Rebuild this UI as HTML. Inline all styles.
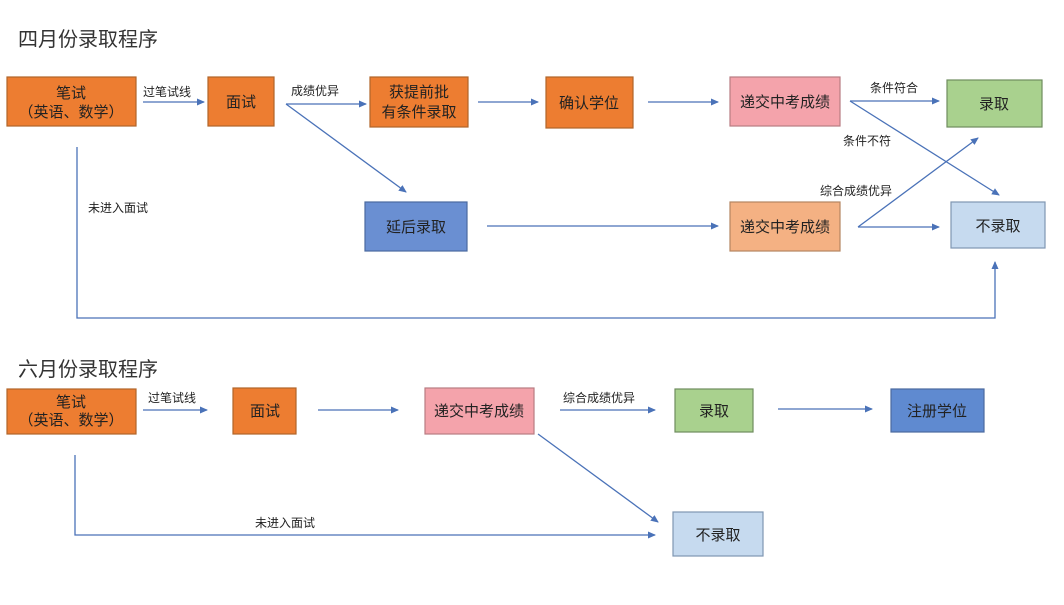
<!DOCTYPE html>
<html><head><meta charset="utf-8"><style>
body{margin:0;background:#fff;}
svg{display:block;font-family:"Liberation Sans","Noto Sans CJK SC",sans-serif;}
</style></head><body>
<svg width="1064" height="605" viewBox="0 0 1064 605" xmlns="http://www.w3.org/2000/svg">
<defs>
<marker id="a" markerWidth="8" markerHeight="8" refX="7" refY="4" orient="auto" markerUnits="userSpaceOnUse">
<path d="M0,0.5 L8,4 L0,7.5 z" fill="#4A72B8"/></marker>
</defs>
<rect width="1064" height="605" fill="#fff"/>
<g font-size="20" fill="#333"><text x="18" y="46">四月份录取程序</text><text x="18" y="376">六月份录取程序</text></g>

<g stroke-width="1.2">
<rect x="7" y="77" width="129" height="49" fill="#ED7D31" stroke="#B0652A"/>
<rect x="208" y="77" width="66" height="49" fill="#ED7D31" stroke="#B0652A"/>
<rect x="370" y="77" width="98" height="50" fill="#ED7D31" stroke="#B0652A"/>
<rect x="546" y="77" width="87" height="51" fill="#ED7D31" stroke="#B0652A"/>
<rect x="730" y="77" width="110" height="49" fill="#F4A3AB" stroke="#B87C82"/>
<rect x="947" y="80" width="95" height="47" fill="#A9D18E" stroke="#6F8C5E"/>
<rect x="365" y="202" width="102" height="49" fill="#6A8FD2" stroke="#4B6A9F"/>
<rect x="730" y="202" width="110" height="49" fill="#F4B183" stroke="#B48562"/>
<rect x="951" y="202" width="94" height="46" fill="#C6DAEF" stroke="#7F96B2"/>

<rect x="7" y="389" width="129" height="45" fill="#ED7D31" stroke="#B0652A"/>
<rect x="233" y="388" width="63" height="46" fill="#ED7D31" stroke="#B0652A"/>
<rect x="425" y="388" width="109" height="46" fill="#F4A3AB" stroke="#B87C82"/>
<rect x="675" y="389" width="78" height="43" fill="#A9D18E" stroke="#6F8C5E"/>
<rect x="891" y="389" width="93" height="43" fill="#5F8AD0" stroke="#4B6A9F"/>
<rect x="673" y="512" width="90" height="44" fill="#C6DAEF" stroke="#7F96B2"/>
</g>

<g font-size="15" fill="#222" text-anchor="middle">
<text x="71" y="98">笔试</text><text x="71" y="117">（英语、数学）</text>
<text x="241" y="107">面试</text>
<text x="419" y="97">获提前批</text><text x="419" y="117">有条件录取</text>
<text x="589" y="108">确认学位</text>
<text x="785" y="107">递交中考成绩</text>
<text x="994" y="109">录取</text>
<text x="416" y="232">延后录取</text>
<text x="785" y="232">递交中考成绩</text>
<text x="998" y="231">不录取</text>

<text x="71" y="407">笔试</text><text x="71" y="425">（英语、数学）</text>
<text x="265" y="416">面试</text>
<text x="479" y="416">递交中考成绩</text>
<text x="714" y="416">录取</text>
<text x="937" y="416">注册学位</text>
<text x="718" y="540">不录取</text>
</g>

<g stroke="#4A72B8" stroke-width="1.3" fill="none">
<line x1="143" y1="102" x2="204" y2="102" marker-end="url(#a)"/>
<line x1="286" y1="104" x2="366" y2="104" marker-end="url(#a)"/>
<line x1="286" y1="104" x2="406" y2="192" marker-end="url(#a)"/>
<line x1="478" y1="102" x2="538" y2="102" marker-end="url(#a)"/>
<line x1="648" y1="102" x2="718" y2="102" marker-end="url(#a)"/>
<line x1="850" y1="101" x2="939" y2="101" marker-end="url(#a)"/>
<line x1="850" y1="101" x2="999" y2="195" marker-end="url(#a)"/>
<line x1="487" y1="226" x2="718" y2="226" marker-end="url(#a)"/>
<line x1="858" y1="227" x2="939" y2="227" marker-end="url(#a)"/>
<line x1="858" y1="227" x2="978" y2="138" marker-end="url(#a)"/>
<polyline points="77,147 77,318 995,318 995,262" marker-end="url(#a)"/>

<line x1="143" y1="410" x2="207" y2="410" marker-end="url(#a)"/>
<line x1="318" y1="410" x2="398" y2="410" marker-end="url(#a)"/>
<line x1="560" y1="410" x2="655" y2="410" marker-end="url(#a)"/>
<line x1="778" y1="409" x2="872" y2="409" marker-end="url(#a)"/>
<line x1="538" y1="434" x2="658" y2="522" marker-end="url(#a)"/>
<polyline points="75,455 75,535 655,535" marker-end="url(#a)"/>
</g>

<g font-size="12" fill="#222">
<text x="143" y="96">过笔试线</text>
<text x="291" y="95">成绩优异</text>
<text x="870" y="92">条件符合</text>
<text x="843" y="145">条件不符</text>
<text x="820" y="195">综合成绩优异</text>
<text x="88" y="212">未进入面试</text>
<text x="148" y="402">过笔试线</text>
<text x="563" y="402">综合成绩优异</text>
<text x="255" y="527">未进入面试</text>
</g>
</svg>
</body></html>
